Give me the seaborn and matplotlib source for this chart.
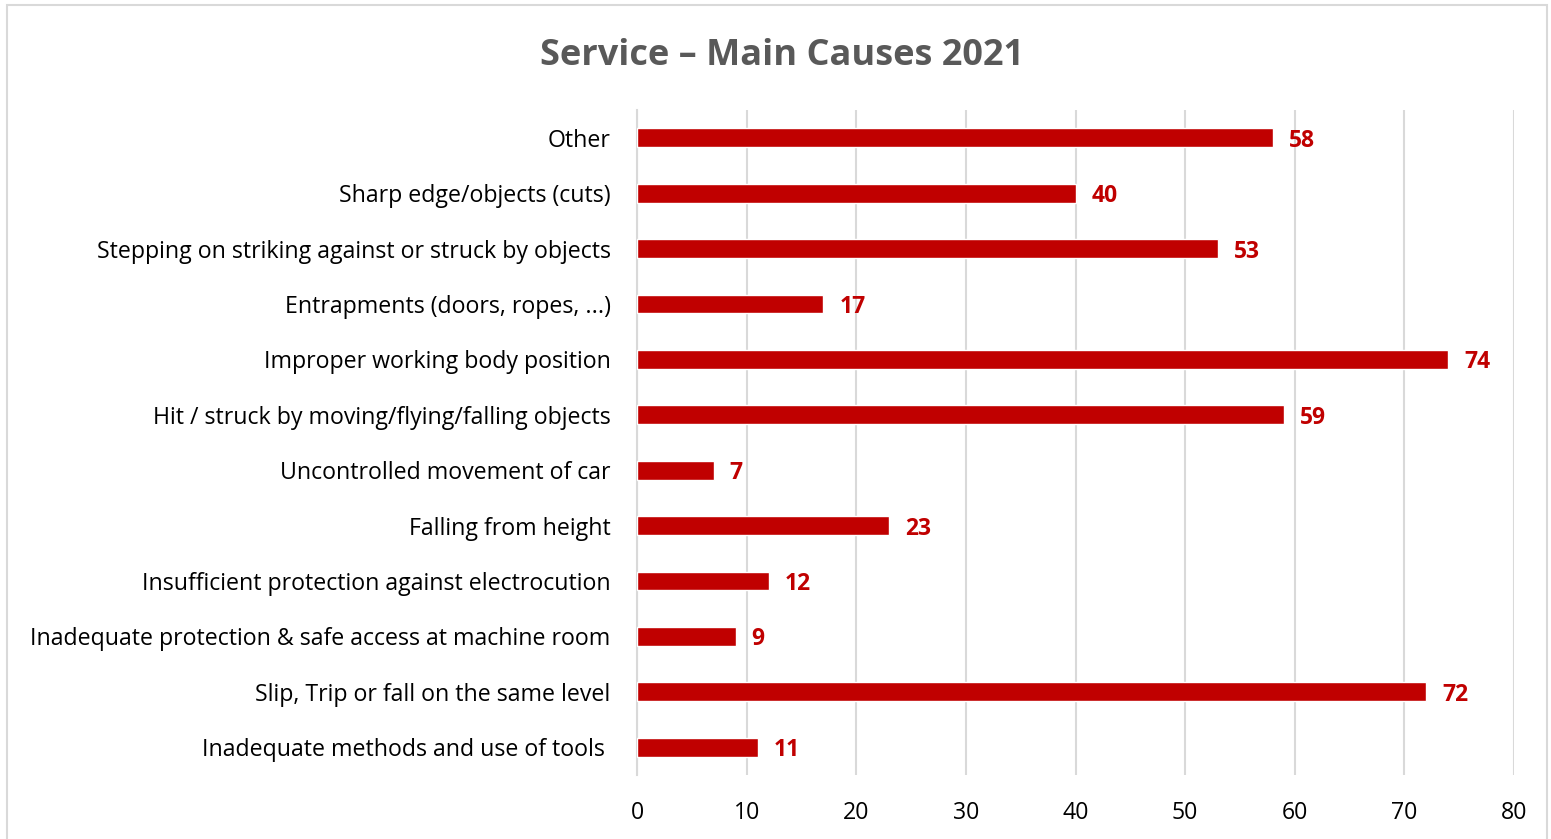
import matplotlib
matplotlib.use("Agg")
import matplotlib.pyplot as plt
import seaborn as sns
import pandas as pd
from matplotlib.patches import Rectangle

categories = [
    "Other",
    "Sharp edge/objects (cuts)",
    "Stepping on striking against or struck by objects",
    "Entrapments (doors, ropes, ...)",
    "Improper working body position",
    "Hit / struck by moving/flying/falling objects",
    "Uncontrolled movement of car",
    "Falling from height",
    "Insufficient protection against electrocution",
    "Inadequate protection & safe access at machine room",
    "Slip, Trip or fall on the same level",
    "Inadequate methods and use of tools ",
]
values = [58, 40, 53, 17, 74, 59, 7, 23, 12, 9, 72, 11]
x_ticks = [0, 10, 20, 30, 40, 50, 60, 70, 80]
title = "Service – Main Causes 2021"

df = pd.DataFrame({"cause": categories, "count": values})

sns.set_theme(style="white")
plt.rcParams["font.family"] = ["Open Sans", "DejaVu Sans"]

fig = plt.figure(figsize=(15.51, 8.39), dpi=100)
ax = fig.add_axes([637/1551, 1-775/839, (1514-637)/1551, (775-110)/839])

sns.barplot(data=df, x="count", y="cause", orient="h", color="#C00000",
            width=0.34, saturation=1, ax=ax, zorder=3)

ax.set_xlim(0, 80)
ax.set_xticks(x_ticks)
ax.set_xticklabels([str(t) for t in x_ticks])
ax.xaxis.grid(True, color="#D9D9D9", linewidth=1.5, zorder=0)
ax.yaxis.grid(False)
for s in ["top", "right", "bottom"]:
    ax.spines[s].set_visible(False)
ax.spines["left"].set_visible(True)
ax.spines["left"].set_color("#D9D9D9")
ax.spines["left"].set_linewidth(1.5)
ax.set_xlabel("")
ax.set_ylabel("")
ax.tick_params(axis="y", labelsize=16.7, colors="#000000", length=0, pad=19)
ax.tick_params(axis="x", labelsize=16.7, colors="#000000", length=0, pad=19)
for lab in ax.get_yticklabels() + ax.get_xticklabels():
    lab.set_color("#000000")

for cont in ax.containers:
    texts = ax.bar_label(cont, labels=[str(v) for v in values], padding=11.5,
                         color="#C00000", fontsize=16.5, fontweight="bold")
    for t in texts:
        t.set_verticalalignment("center_baseline")

fig.text(0.504, 1-56/839, title, ha="center", va="center", fontsize=26,
         fontweight="bold", color="#595959")

fig.patches.append(Rectangle((7/1551, -0.01), (1547-7)/1551, 1-5/839+0.01,
                             transform=fig.transFigure, fill=False,
                             edgecolor="#D9D9D9", linewidth=1.5))

fig.savefig("out.png", dpi=100, facecolor="white")
